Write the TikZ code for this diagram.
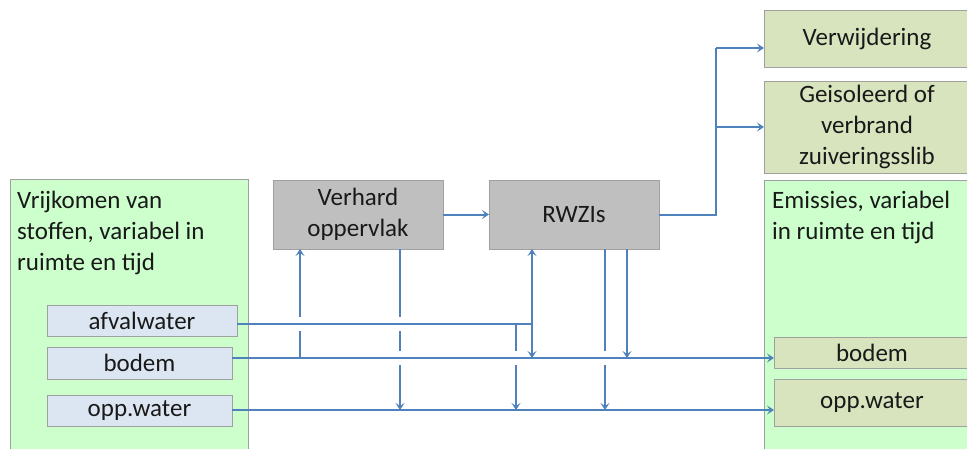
\documentclass[tikz,border=0pt]{standalone}
\usepackage{fontspec}
\setmainfont{Carlito}
\usetikzlibrary{arrows.meta,calc}
\definecolor{srcgreen}{RGB}{204,255,204}
\definecolor{srcblue}{RGB}{220,230,242}
\definecolor{procgray}{RGB}{191,191,191}
\definecolor{sinkolive}{RGB}{215,228,189}
\definecolor{edgegray}{RGB}{160,160,160}
\definecolor{flowblue}{RGB}{79,129,189}

\begin{document}
\begin{tikzpicture}[x=1pt, y=-1pt, >={Stealth[length=7pt,width=9pt,inset=3pt]},
    box/.style={draw=edgegray, line width=0.8pt, inner sep=0pt, outer sep=0pt,
      text=black!90, align=center, font=\fontsize{25}{31}\selectfont},
    area/.style={box, fill=srcgreen, anchor=north west},
    inbox/.style={box, fill=srcblue},
    proc/.style={box, fill=procgray, minimum width=170, minimum height=69},
    outbox/.style={box, fill=sinkolive},
    txt/.style={anchor=north west, align=left, inner sep=0pt, text=black!90,
      font=\fontsize{25}{31}\selectfont},
    flow/.style={draw=flowblue, line width=2pt}]
        \useasboundingbox (0,0) rectangle (967,448);
        \clip (0,0) rectangle (967,448);
        % source and emission areas
        \node [area, minimum width=238, minimum height=300] (vrij) at (10,179) {};
        \node [txt] (vrijtxt) at (17,191) {Vrijkomen van\\stoffen, variabel in\\ruimte en tijd};
        \node [area, minimum width=220, minimum height=300] (emis) at (764,180) {};
        \node [txt] (emistxt) at (772,191) {Emissies, variabel\\in ruimte en tijd};
        \node [inbox, minimum width=190, minimum height=31] (afval) at (142,320.5) {afvalwater};
        \node [inbox, minimum width=185, minimum height=32] (bodem) at (139.5,363) {bodem};
        \node [inbox, minimum width=185, minimum height=31] (opp) at (139.5,410.5) {opp.water};
        \node [proc] (verhard) at (358,214.5) {Verhard\\oppervlak};
        \node [proc] (rwzi) at (574,214.5) {RWZIs};
        \node [outbox, minimum width=206, minimum height=57] (verw) at (867,38.5) {Verwijdering};
        \node [outbox, minimum width=206, minimum height=92] (slib) at (867,127) {Geisoleerd of\\verbrand\\zuiveringsslib};
        \node [outbox, minimum width=196, minimum height=31] (ebodem) at (872,352.5) {bodem};
        \node [outbox, minimum width=196, minimum height=47] (eopp) at (872,402.5) {opp.water};
        % levels of the flow lines
        \coordinate (xUp) at (300,0);
        \coordinate (xDn) at (400,0);
        \coordinate (xAf) at (516,0);
        \coordinate (xRi) at (532,0);
        \coordinate (xRo) at (605,0);
        \coordinate (xRb) at (627,0);
        \coordinate (xSp) at (716,0);
        \coordinate (yAf) at (0,324);
        \coordinate (yBo) at (0,358);
        \coordinate (yOp) at (0,410);
        \coordinate (yVw) at (0,48);
        \def\gp{7}
        % horizontal flows
        \draw [flow] (afval.east |- yAf) -- (xRi |- yAf);
        \draw [flow, ->] (bodem.east |- yBo) -- (ebodem.west |- yBo);
        \draw [flow, ->] (opp.east |- yOp) -- (eopp.west |- yOp);
        \draw [flow, ->] (verhard) -- (rwzi);
        \draw [flow] (rwzi.east) -- (xSp |- rwzi.east) -- (xSp |- yVw);
        \draw [flow, ->] (xSp |- yVw) -- (verw.west |- yVw);
        \draw [flow, ->] (xSp |- slib.west) -- (slib.west);
        % vertical flows, broken where they cross
        \draw [flow] (xUp |- yBo) -- ($(xUp |- yAf)+(0,\gp)$);
        \draw [flow, ->] ($(xUp |- yAf)-(0,\gp)$) -- (verhard.south -| xUp);
        \draw [flow] (verhard.south -| xDn) -- ($(xDn |- yAf)-(0,\gp)$);
        \draw [flow] ($(xDn |- yAf)+(0,\gp)$) -- ($(xDn |- yBo)-(0,\gp)$);
        \draw [flow, ->] ($(xDn |- yBo)+(0,\gp)$) -- (xDn |- yOp);
        \draw [flow] (xAf |- yAf) -- ($(xAf |- yBo)-(0,\gp)$);
        \draw [flow, ->] ($(xAf |- yBo)+(0,\gp)$) -- (xAf |- yOp);
        \draw [flow, <->] (rwzi.south -| xRi) -- (xRi |- yBo);
        \draw [flow] (rwzi.south -| xRo) -- ($(xRo |- yBo)-(0,\gp)$);
        \draw [flow, ->] ($(xRo |- yBo)+(0,\gp)$) -- (xRo |- yOp);
        \draw [flow, ->] (rwzi.south -| xRb) -- (xRb |- yBo);
    \end{tikzpicture}
\end{document}
